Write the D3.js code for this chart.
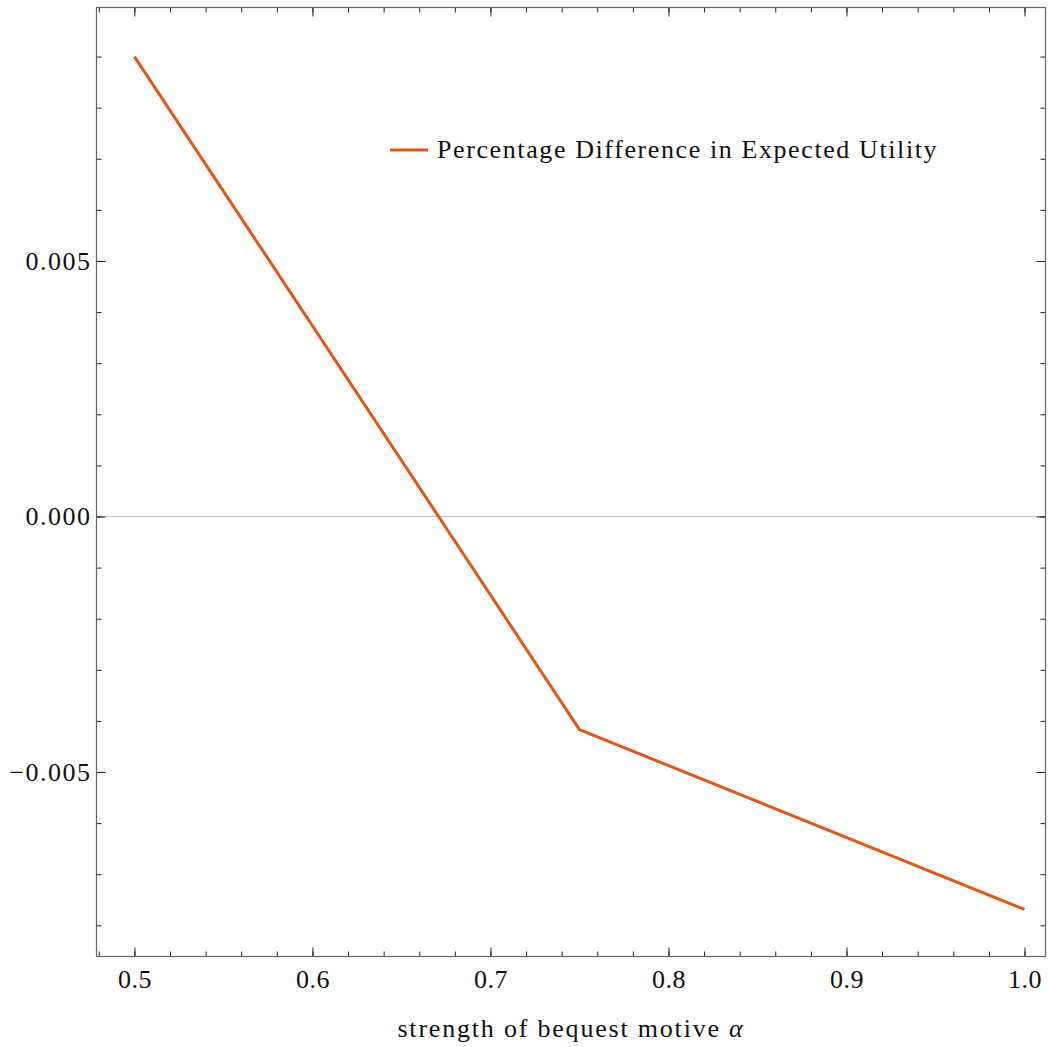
<!DOCTYPE html>
<html>
<head>
<meta charset="utf-8">
<script src="https://cdn.jsdelivr.net/npm/d3@7"></script>
<style>
  body { margin: 0; background: #fff; }
  svg text { font-family: 'Liberation Serif', serif; fill: #111; }
</style>
</head>
<body>
<div id="chart"></div>
<script>
var alphas = [0.5, 0.75, 1.0]
var utilityDiff = [0.00900, -0.00417, -0.00769]
var seriesName = 'Percentage Difference in Expected Utility'
var xMajor = [0.5, 0.6, 0.7, 0.8, 0.9, 1.0]
var yMajor = [-0.005, 0, 0.005]
var xMinor = d3.range(48, 101, 2).map(function (d) { return d / 100 })
var yMinor = d3.range(-8, 10, 1).map(function (d) { return d / 1000 })

var width = 1049
var height = 1047
var frameL = 96.5, frameR = 1045.5, frameT = 7.5, frameB = 956.5

var x = d3.scaleLinear().domain([0.4787, 1.0118]).range([frameL, frameR])
var y = d3.scaleLinear().domain([-0.00861, 0.00996]).range([frameB, frameT])

var svg = d3.select('#chart')
  .append('svg')
  .attr('width', width)
  .attr('height', height)

// zero line
svg.append('line')
  .attr('x1', frameL).attr('x2', frameR)
  .attr('y1', y(0)).attr('y2', y(0))
  .attr('stroke', '#c8c8c8')
  .attr('stroke-width', 1)

function styleAxis (g) {
  g.select('.domain').remove()
  g.selectAll('.tick line').attr('stroke', '#222')
  g.selectAll('.tick text').attr('font-size', 26).attr('fill', '#111')
}

// bottom
svg.append('g').attr('transform', 'translate(0,' + frameB + ')')
  .call(d3.axisBottom(x).tickValues(xMinor).tickSize(-5).tickFormat(''))
  .call(styleAxis)
svg.append('g').attr('transform', 'translate(0,' + frameB + ')')
  .call(d3.axisBottom(x).tickValues(xMajor).tickSize(-9).tickPadding(13).tickFormat(d3.format('.1f')))
  .call(styleAxis)
  .selectAll('.tick text').attr('letter-spacing', 0.5)

// top
svg.append('g').attr('transform', 'translate(0,' + frameT + ')')
  .call(d3.axisTop(x).tickValues(xMinor).tickSize(-5).tickFormat(''))
  .call(styleAxis)
svg.append('g').attr('transform', 'translate(0,' + frameT + ')')
  .call(d3.axisTop(x).tickValues(xMajor).tickSize(-9).tickFormat(''))
  .call(styleAxis)

// left
svg.append('g').attr('transform', 'translate(' + frameL + ',0)')
  .call(d3.axisLeft(y).tickValues(yMinor).tickSize(-5).tickFormat(''))
  .call(styleAxis)
svg.append('g').attr('transform', 'translate(' + frameL + ',0)')
  .call(d3.axisLeft(y).tickValues(yMajor).tickSize(-9).tickPadding(5).tickFormat(d3.format('.3f')))
  .call(styleAxis)
  .selectAll('.tick text').attr('letter-spacing', 1.5)

// right
svg.append('g').attr('transform', 'translate(' + frameR + ',0)')
  .call(d3.axisRight(y).tickValues(yMinor).tickSize(-5).tickFormat(''))
  .call(styleAxis)
svg.append('g').attr('transform', 'translate(' + frameR + ',0)')
  .call(d3.axisRight(y).tickValues(yMajor).tickSize(-9).tickFormat(''))
  .call(styleAxis)

// frame
svg.append('rect')
  .attr('x', frameL).attr('y', frameT)
  .attr('width', frameR - frameL).attr('height', frameB - frameT)
  .attr('fill', 'none')
  .attr('stroke', '#666')
  .attr('stroke-width', 1.2)

var lineColor = '#e2571a'

var line = d3.line()
  .x(function (d, i) { return x(alphas[i]) })
  .y(function (d) { return y(d) })

svg.append('path')
  .datum(utilityDiff)
  .attr('d', line)
  .attr('fill', 'none')
  .attr('stroke', lineColor)
  .attr('stroke-width', 3)
  .attr('stroke-linejoin', 'round')

// legend
var legend = svg.append('g').attr('transform', 'translate(390,150)')
legend.append('line')
  .attr('x1', 0).attr('x2', 38)
  .attr('y1', 0).attr('y2', 0)
  .attr('stroke', lineColor)
  .attr('stroke-width', 3)
legend.append('text')
  .attr('x', 47)
  .attr('y', 8)
  .attr('font-size', 26)
  .attr('letter-spacing', 1.6)
  .text(seriesName)

// x label
var xlab = svg.append('text')
  .attr('x', (frameL + frameR) / 2)
  .attr('y', 1037)
  .attr('text-anchor', 'middle')
  .attr('font-size', 26)
  .attr('letter-spacing', 1.8)
xlab.append('tspan').text('strength of bequest motive ')
xlab.append('tspan').attr('font-style', 'italic').text('α')
</script>
</body>
</html>
